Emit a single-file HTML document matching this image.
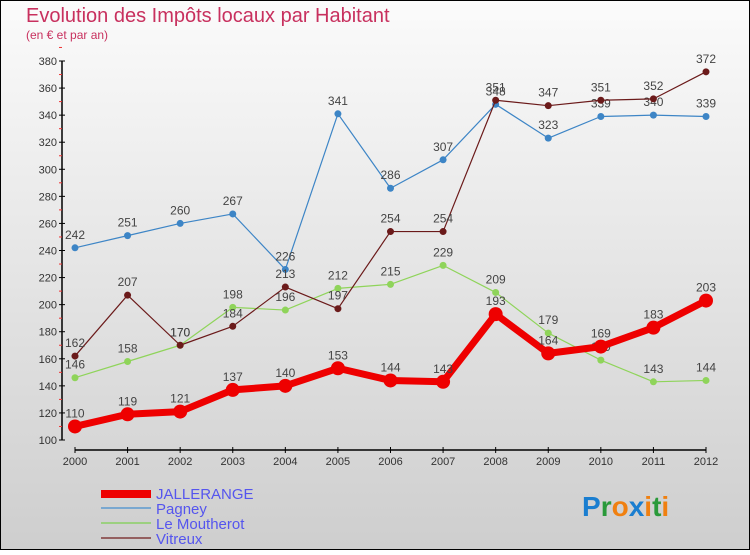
<!DOCTYPE html>
<html><head><meta charset="utf-8"><style>
body{margin:0;width:750px;height:550px;overflow:hidden;font-family:"Liberation Sans",sans-serif}
svg text{font-family:"Liberation Sans",sans-serif}
</style></head><body>
<svg id="c" width="750" height="550" xmlns="http://www.w3.org/2000/svg">
<defs><linearGradient id="bg" x1="0" y1="0" x2="0" y2="1"><stop offset="0" stop-color="#fbfbfb"/><stop offset="1" stop-color="#cecece"/></linearGradient></defs>
<rect x="0.5" y="0.5" width="749" height="549" fill="url(#bg)" stroke="#000"/>
<text x="26" y="22" font-size="20" fill="#c8305e">Evolution des Impôts locaux par Habitant</text>
<text x="26" y="39" font-size="12" fill="#c8305e">(en € et par an)</text>
<g id="axes"></g><g id="series"></g>
<g>
<rect x="101" y="490" width="50" height="8" fill="#e00"/>
<text x="156" y="499" font-size="15" fill="#5555ee">JALLERANGE</text>
<line x1="101" y1="508" x2="151" y2="508" stroke="#7aa8d0" stroke-width="2"/>
<text x="156" y="514" font-size="15" fill="#5555ee">Pagney</text>
<line x1="101" y1="523" x2="151" y2="523" stroke="#9cd080" stroke-width="2"/>
<text x="156" y="529" font-size="15" fill="#5555ee">Le Moutherot</text>
<line x1="101" y1="538" x2="151" y2="538" stroke="#946060" stroke-width="2"/>
<text x="156" y="544" font-size="15" fill="#5555ee">Vitreux</text>
</g>
<text x="582" y="516" font-size="28" font-weight="bold"><tspan fill="#1a7ed0">P</tspan><tspan fill="#2a9a3a">r</tspan><tspan fill="#f08010">o</tspan><tspan fill="#1a7ed0">x</tspan><tspan fill="#f08010">i</tspan><tspan fill="#2a9a3a">t</tspan><tspan fill="#f08010">i</tspan></text>
</svg>
<script>
const years=[2000,2001,2002,2003,2004,2005,2006,2007,2008,2009,2010,2011,2012];
const yTicks=[100,120,140,160,180,200,220,240,260,280,300,320,340,360,380];
const jallerange=[110,119,121,137,140,153,144,143,193,164,169,183,203];
const pagney=[242,251,260,267,226,341,286,307,348,323,339,340,339];
const moutherot=[146,158,170,198,196,212,215,229,209,179,159,143,144];
const vitreux=[162,207,170,184,213,197,254,254,351,347,351,352,372];
const NS="http://www.w3.org/2000/svg";
const X=i=>75+i*(706-75)/(years.length-1);
const Y=v=>440-(v-100)*(440-61)/280;
function mk(t,a,p){const e=document.createElementNS(NS,t);for(const k in a)e.setAttribute(k,a[k]);p.appendChild(e);return e;}
const ax=document.getElementById('axes');
let l=mk('line',{x1:62,y1:Y(380),x2:62,y2:440,stroke:'#000','stroke-width':1.5},ax);


yTicks.forEach(v=>{
 mk('line',{x1:59,x2:65,y1:Y(v),y2:Y(v),stroke:'#000'},ax);
 mk('line',{x1:59,x2:62,y1:Y(v+10),y2:Y(v+10),stroke:'#e33'},ax);
 const t=mk('text',{x:57,y:Y(v)+4,'font-size':11,'text-anchor':'end',fill:'#333'},ax);t.textContent=v;
 
 
});
l=mk('line',{x1:75,y1:450,x2:706,y2:450,stroke:'#000','stroke-width':1.5},ax);


years.forEach((y,i)=>{
 mk('line',{x1:X(i),x2:X(i),y1:447,y2:453,stroke:'#000'},ax);
 const t=mk('text',{x:X(i),y:465,'font-size':11,'text-anchor':'middle',fill:'#333'},ax);t.textContent=y;
 
 
});
const sg=document.getElementById('series');
function draw(vals,color,w,r,name){
 const g=mk('g',{},sg);
 
 
 const p=mk('polyline',{points:vals.map((v,i)=>X(i)+','+Y(v)).join(' '),fill:'none',stroke:color,'stroke-width':w,'stroke-linejoin':'round'},g);
 
 
 vals.forEach((v,i)=>{
  const c=mk('circle',{cx:X(i),cy:Y(v),r:r,fill:color},g);
  
  
  const t=mk('text',{x:X(i),y:Y(v)-9,'font-size':12,'text-anchor':'middle',fill:'#444'},g);t.textContent=v;
  
  
 });
}
draw(pagney,'#3d85c6',1.2,3.5,'pagney');
draw(moutherot,'#8fd45a',1.2,3.5,'le-moutherot');
draw(vitreux,'#6b1a1a',1.2,3.5,'vitreux');
draw(jallerange,'#ee0000',7,7,'jallerange');
</script>
</body></html>
